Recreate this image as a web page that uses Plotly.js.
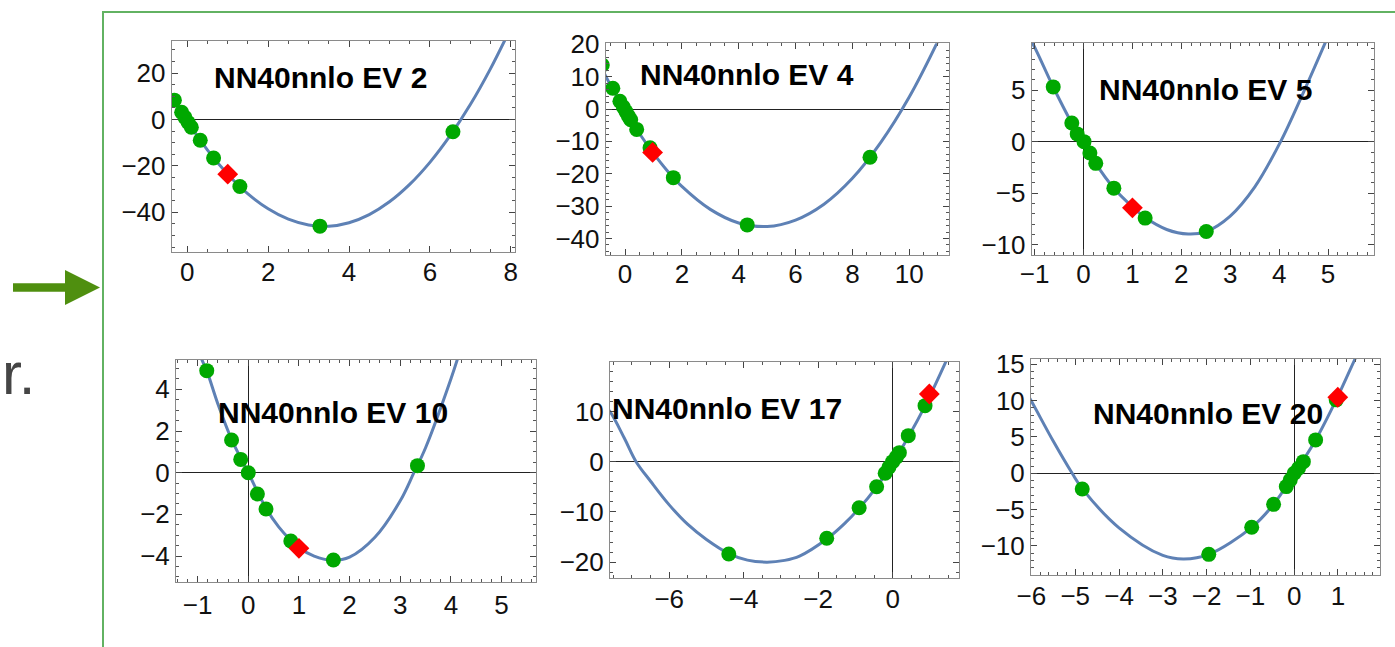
<!DOCTYPE html>
<html>
<head>
<meta charset="utf-8">
<script src="https://cdn.plot.ly/plotly-3.0.1.min.js"></script>
<style>
html,body{margin:0;padding:0;background:#ffffff;overflow:hidden;}
#chart{width:1395px;height:647px;}
</style>
</head>
<body>
<div id="chart"></div>
<script>
// ---------- data ----------
const panelTitles = ["NN40nnlo EV 2", "NN40nnlo EV 4", "NN40nnlo EV 5",
                     "NN40nnlo EV 10", "NN40nnlo EV 17", "NN40nnlo EV 20"];

// EV 2
const ev2CurveX = [-0.5, 0, 0.5, 1, 1.5, 2, 2.5, 3, 3.5, 4, 4.5, 5, 5.5, 6, 6.5, 7, 7.5, 8, 8.2];
const ev2CurveY = [13.7, -0.8, -13.2, -23.6, -32.1, -38.5, -43.0, -45.5, -46.0, -44.5, -41.0, -35.5, -28.0, -18.5, -7.0, 6.4, 21.9, 39.4, 46.9];
const ev2PtsX = [-0.32, -0.14, -0.06, 0.02, 0.1, 0.32, 0.65, 1.3, 3.28, 6.57];
const ev2PtsY = [8.3, 3.1, 0.9, -1.3, -3.4, -9.0, -16.6, -28.9, -46.0, -5.3];
const ev2RefX = [1.0];
const ev2RefY = [-23.6];

// EV 4
const ev4CurveX = [-1, -0.5, 0, 0.5, 1, 1.5, 2, 3, 4, 5, 6, 7, 8, 9, 10, 11, 11.6];
const ev4CurveY = [15.7, 7.2, -0.5, -7.5, -13.7, -19.2, -23.9, -31.0, -35.2, -36.3, -34.3, -29.4, -21.4, -10.3, 3.7, 20.8, 32.4];
const ev4PtsX = [-0.8, -0.43, -0.18, -0.06, 0.03, 0.12, 0.2, 0.41, 0.88, 1.7, 4.3, 8.62];
const ev4PtsY = [13.6, 6.4, 2.4, 0.6, -0.8, -2.2, -3.3, -6.3, -12.0, -21.2, -35.8, -14.9];
const ev4RefX = [0.97];
const ev4RefY = [-13.4];

// EV 5
const ev5CurveX = [-1.15, -1.04, -0.62, -0.24, 0, 0.25, 0.62, 1.0, 1.26, 1.7, 2.14, 2.51, 3.0, 3.5, 4.03, 4.5, 5.0];
const ev5CurveY = [10.3, 9.5, 5.3, 1.8, 0, -2.1, -4.5, -6.3, -7.35, -8.5, -8.94, -8.7, -7.2, -4.4, 0, 4.8, 10.2];
const ev5PtsX = [-0.62, -0.24, -0.13, 0.01, 0.13, 0.25, 0.62, 1.26, 2.51];
const ev5PtsY = [5.3, 1.8, 0.75, 0, -1.1, -2.1, -4.5, -7.4, -8.7];
const ev5RefX = [1.0];
const ev5RefY = [-6.4];

// EV 10
const ev10CurveX = [-1.0, -0.92, -0.82, -0.6, -0.33, 0, 0.35, 0.6, 0.84, 1.0, 1.3, 1.65, 2.0, 2.5, 3.0, 3.27, 3.5, 4.0, 4.2];
const ev10CurveY = [6.1, 5.45, 4.9, 3.3, 1.6, 0, -1.7, -2.6, -3.25, -3.6, -4.0, -4.2, -4.05, -3.1, -1.35, 0, 1.2, 4.5, 6.0];
const ev10PtsX = [-0.82, -0.33, -0.15, 0, 0.18, 0.35, 0.84, 1.68, 3.34];
const ev10PtsY = [4.9, 1.57, 0.64, 0, -1.02, -1.74, -3.28, -4.19, 0.34];
const ev10RefX = [1.0];
const ev10RefY = [-3.63];

// EV 17
const ev17CurveX = [-7.8, -7.59, -7.2, -6.89, -6.5, -6, -5.5, -5, -4.4, -3.9, -3.38, -2.9, -2.5, -1.77, -1.3, -0.9, -0.43, 0, 0.42, 0.87, 1.43, 1.6];
const ev17CurveY = [11.6, 9.95, 4.6, 0, -3.9, -8.6, -12.5, -15.5, -18.3, -19.6, -20.0, -19.65, -18.8, -15.4, -12.4, -9.3, -5.0, -0.3, 4.9, 11.1, 19.9, 22.8];
const ev17PtsX = [-4.4, -1.77, -0.9, -0.43, -0.2, -0.1, 0.0, 0.1, 0.18, 0.42, 0.87];
const ev17PtsY = [-18.38, -15.26, -9.16, -4.98, -2.3, -1.1, 0, 0.9, 1.79, 5.18, 11.15];
const ev17RefX = [0.985];
const ev17RefY = [13.47];

// EV 20
const ev20CurveX = [-6.1, -6, -5.5, -5.07, -4.84, -4, -3, -2.52, -1.95, -0.97, -0.47, 0, 0.49, 0.96, 1.39, 1.6];
const ev20CurveY = [10.9, 9.9, 4.4, 0, -2.1, -7.5, -11.3, -11.79, -11.15, -7.43, -4.27, -0.1, 4.59, 10.1, 15.73, 18.5];
const ev20PtsX = [-4.84, -1.95, -0.97, -0.47, -0.18, -0.09, 0, 0.1, 0.21, 0.49, 0.96];
const ev20PtsY = [-2.16, -11.15, -7.43, -4.27, -1.83, -0.92, 0, 0.69, 1.6, 4.59, 10.1];
const ev20RefX = [0.996];
const ev20RefY = [10.46];

// ---------- layout helpers ----------
const W = 1395, H = 647;
const panels = [
  {cx: ev2CurveX, cy: ev2CurveY, px: ev2PtsX, py: ev2PtsY, rx: ev2RefX, ry: ev2RefY,
   box: [171.7, 515, 41, 251.7], xr: [-0.386, 8.105], yr: [-57.0, 33.8],
   xd: 2, xm: 0.5, yd: 20, ym: 5, xzero: false, tpos: [320, 77.5], so: -3},
  {cx: ev4CurveX, cy: ev4CurveY, px: ev4PtsX, py: ev4PtsY, rx: ev4RefX, ry: ev4RefY,
   box: [605.7, 949.3, 43.3, 255], xr: [-0.68, 11.41], yr: [-45.1, 20.3],
   xd: 2, xm: 0.5, yd: 10, ym: 2, xzero: false, tpos: [746.7, 75], so: -4},
  {cx: ev5CurveX, cy: ev5CurveY, px: ev5PtsX, py: ev5PtsY, rx: ev5RefX, ry: ev5RefY,
   box: [1031.7, 1374, 42.7, 255], xr: [-1.06, 5.94], yr: [-10.97, 9.58],
   xd: 1, xm: 0.2, yd: 5, ym: 1, xzero: true, tpos: [1205, 90], so: -4},
  {cx: ev10CurveX, cy: ev10CurveY, px: ev10PtsX, py: ev10PtsY, rx: ev10RefX, ry: ev10RefY,
   box: [176, 536, 360, 582.3], xr: [-1.427, 5.68], yr: [-5.26, 5.41],
   xd: 1, xm: 0.2, yd: 2, ym: 0.5, xzero: true, tpos: [332.5, 412.5], so: -1},
  {cx: ev17CurveX, cy: ev17CurveY, px: ev17PtsX, py: ev17PtsY, rx: ev17RefX, ry: ev17RefY,
   box: [610, 959.3, 361.7, 577.7], xr: [-7.59, 1.79], yr: [-23.1, 19.9],
   xd: 2, xm: 0.5, yd: 10, ym: 2, xzero: true, tpos: [727, 408.3], so: -2},
  {cx: ev20CurveX, cy: ev20CurveY, px: ev20PtsX, py: ev20PtsY, rx: ev20RefX, ry: ev20RefY,
   box: [1031, 1380, 359, 575], xr: [-6.01, 1.96], yr: [-13.99, 15.72],
   xd: 1, xm: 0.2, yd: 5, ym: 1, xzero: true, tpos: [1208, 413.3], so: -2}
];

const tickFont = {family: 'Liberation Sans, Arial, Helvetica, sans-serif', size: 26, color: '#111111'};

function axis(domain, range, dtick, mdtick, zero, anchor, standoff) {
  return {
    domain: domain, range: range, autorange: false, anchor: anchor,
    tick0: 0, dtick: dtick, ticks: 'inside', ticklen: 6, tickwidth: 1, tickcolor: '#444444',
    minor: {dtick: mdtick, ticks: 'inside', ticklen: 3, tickwidth: 1, tickcolor: '#555555', showgrid: false},
    showline: true, linecolor: '#8a8a8a', linewidth: 1, mirror: 'ticks',
    showgrid: false, zeroline: zero, zerolinecolor: '#222222', zerolinewidth: 1,
    tickfont: tickFont, ticklabelstandoff: standoff,
    fixedrange: true, automargin: false
  };
}

const traces = [];
const layout = {
  width: W, height: H,
  margin: {l: 0, r: 0, t: 0, b: 0, pad: 0},
  paper_bgcolor: '#ffffff', plot_bgcolor: '#ffffff',
  showlegend: false, hovermode: false,
  annotations: [], shapes: []
};

panels.forEach(function (p, i) {
  const n = i === 0 ? '' : String(i + 1);
  const xa = 'x' + n, ya = 'y' + n;
  const xdom = [p.box[0] / W, p.box[1] / W];
  const ydom = [1 - p.box[3] / H, 1 - p.box[2] / H];
  layout['xaxis' + n] = axis(xdom, p.xr, p.xd, p.xm, p.xzero, ya, p.so);
  layout['yaxis' + n] = axis(ydom, p.yr, p.yd, p.ym, true, xa, 0);
  traces.push({x: p.cx, y: p.cy, xaxis: xa, yaxis: ya, mode: 'lines',
               line: {color: '#5E81B5', width: 3, shape: 'spline', smoothing: 1}});
  traces.push({x: p.px, y: p.py, xaxis: xa, yaxis: ya, mode: 'markers',
               marker: {color: '#00A800', size: 15, line: {width: 0}}});
  traces.push({x: p.rx, y: p.ry, xaxis: xa, yaxis: ya, mode: 'markers',
               marker: {color: '#FF0000', size: 16, symbol: 'diamond', line: {width: 0}}});
  layout.annotations.push({
    xref: 'paper', yref: 'paper', x: p.tpos[0] / W, y: 1 - p.tpos[1] / H,
    xanchor: 'center', yanchor: 'middle', showarrow: false,
    text: '<b>' + panelTitles[i] + '</b>',
    font: {family: 'Liberation Sans, Arial, Helvetica, sans-serif', size: 30, color: '#000000'}
  });
});

// slide decorations: word ending, arrow and green frame
layout.annotations.push({
  xref: 'paper', yref: 'paper', x: 0, y: 1 - 374 / H,
  xanchor: 'left', yanchor: 'middle', showarrow: false, text: 'r.',
  font: {family: 'Liberation Sans, Arial, Helvetica, sans-serif', size: 60, color: '#454545'}
});
const green = '#62b262';
layout.shapes.push(
  {type: 'line', xref: 'paper', yref: 'paper', x0: 103 / W, x1: 103 / W, y0: 0, y1: 1 - 12 / H,
   line: {color: green, width: 2}},
  {type: 'line', xref: 'paper', yref: 'paper', x0: 102 / W, x1: 1, y0: 1 - 12 / H, y1: 1 - 12 / H,
   line: {color: green, width: 2}},
  {type: 'rect', xref: 'paper', yref: 'paper', x0: 13 / W, x1: 68 / W, y0: 1 - 291.7 / H, y1: 1 - 283.3 / H,
   fillcolor: '#4f8f0f', line: {width: 0}},
  {type: 'path', xref: 'paper', yref: 'paper',
   path: 'M ' + (65 / W) + ' ' + (1 - 270 / H) + ' L ' + (100 / W) + ' ' + (1 - 287.5 / H) +
         ' L ' + (65 / W) + ' ' + (1 - 305 / H) + ' Z',
   fillcolor: '#4f8f0f', line: {width: 0}}
);

Plotly.newPlot('chart', traces, layout, {displayModeBar: false, staticPlot: true});
</script>
</body>
</html>
